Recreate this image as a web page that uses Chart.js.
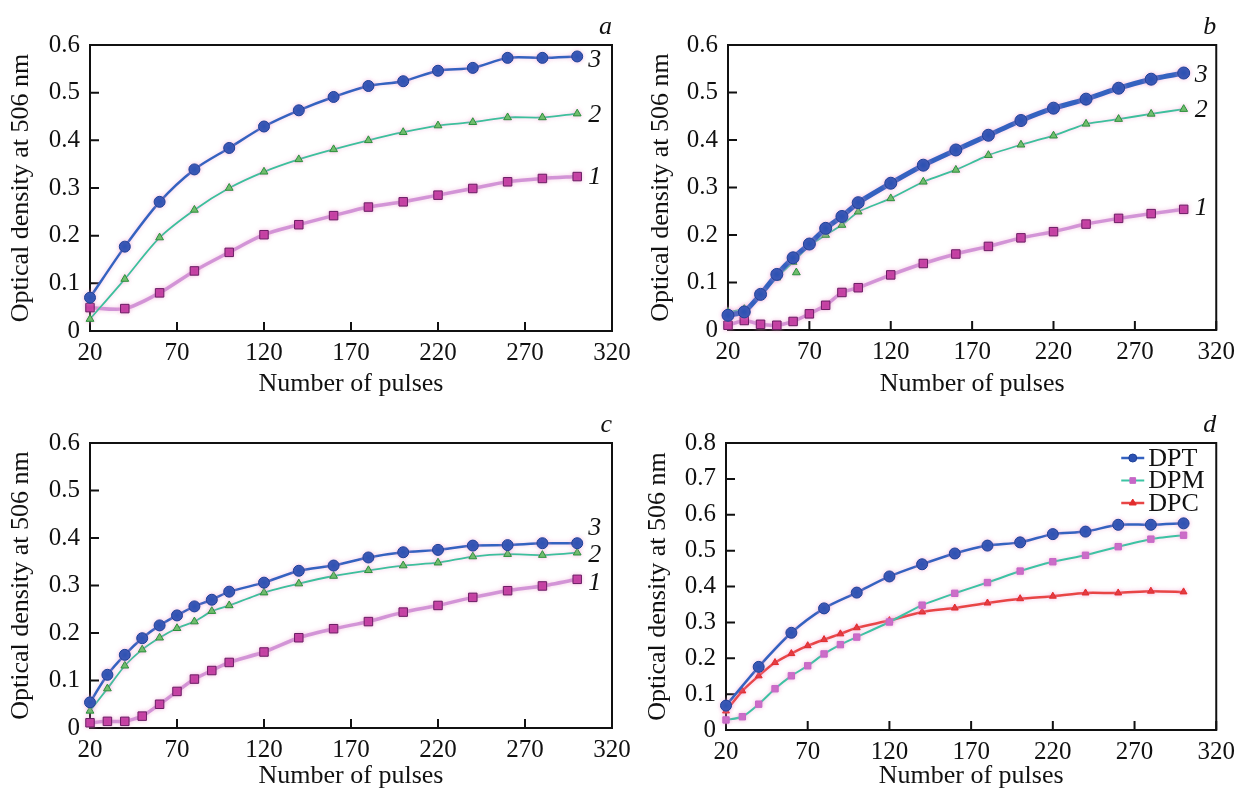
<!DOCTYPE html>
<html>
<head>
<meta charset="utf-8">
<script src="https://cdn.jsdelivr.net/npm/chart.js@4.4.1/dist/chart.umd.min.js"></script>
<style>
  html, body { margin: 0; padding: 0; background: #fff; }
  body { width: 1242px; height: 792px; position: relative; overflow: hidden; }
  canvas { position: absolute; }
</style>
</head>
<body>
<canvas id="panelA" width="660" height="400" style="left:0;top:0"></canvas>
<canvas id="panelB" width="622" height="400" style="left:620px;top:0"></canvas>
<canvas id="panelC" width="660" height="392" style="left:0;top:400px"></canvas>
<canvas id="panelD" width="622" height="392" style="left:620px;top:400px"></canvas>
<script>
// ---- data ----
const pulsesA = [20, 40, 60, 80, 100, 120, 140, 160, 180, 200, 220, 240, 260, 280, 300];
const pulsesB = [20, 30, 40, 50, 60, 70, 80, 90, 100, 120, 140, 160, 180, 200, 220, 240, 260, 280, 300];

// panel a
const a3 = [0.070, 0.177, 0.271, 0.339, 0.384, 0.429, 0.463, 0.491, 0.514, 0.524, 0.546, 0.552, 0.573, 0.573, 0.576];
const a2 = [0.025, 0.109, 0.196, 0.254, 0.300, 0.334, 0.360, 0.381, 0.400, 0.417, 0.431, 0.438, 0.448, 0.448, 0.456];
const a1 = [0.049, 0.047, 0.080, 0.126, 0.165, 0.202, 0.223, 0.242, 0.260, 0.271, 0.285, 0.299, 0.313, 0.320, 0.324];

// panel b
const b3 = [0.031, 0.038, 0.075, 0.117, 0.152, 0.181, 0.214, 0.239, 0.268, 0.309, 0.347, 0.379, 0.410, 0.441, 0.467, 0.486, 0.509, 0.528, 0.541];
const b2 = [0.038, 0.044, 0.073, 0.110, 0.143, 0.177, 0.200, 0.221, 0.249, 0.277, 0.312, 0.337, 0.368, 0.390, 0.409, 0.434, 0.444, 0.455, 0.465];
const b1 = [0.010, 0.020, 0.012, 0.010, 0.018, 0.034, 0.052, 0.079, 0.089, 0.116, 0.140, 0.160, 0.176, 0.194, 0.207, 0.223, 0.235, 0.245, 0.254];
const b2StrayX = [62];
const b2StrayY = [0.121];

// panel c
const c3 = [0.054, 0.112, 0.154, 0.189, 0.216, 0.237, 0.256, 0.270, 0.287, 0.306, 0.331, 0.342, 0.359, 0.370, 0.375, 0.384, 0.385, 0.389, 0.389];
const c2 = [0.036, 0.083, 0.131, 0.165, 0.190, 0.210, 0.224, 0.246, 0.258, 0.285, 0.304, 0.320, 0.332, 0.342, 0.348, 0.361, 0.366, 0.364, 0.369];
const c1 = [0.011, 0.014, 0.014, 0.025, 0.050, 0.077, 0.103, 0.121, 0.138, 0.160, 0.190, 0.209, 0.224, 0.244, 0.258, 0.275, 0.289, 0.299, 0.313];

// panel d
const dDPT = [0.068, 0.176, 0.271, 0.339, 0.383, 0.428, 0.462, 0.492, 0.514, 0.523, 0.546, 0.553, 0.572, 0.572, 0.576];
const dDPM = [0.028, 0.037, 0.072, 0.115, 0.151, 0.179, 0.212, 0.238, 0.259, 0.301, 0.348, 0.381, 0.411, 0.443, 0.469, 0.487, 0.511, 0.532, 0.543];
const dDPC = [0.053, 0.109, 0.151, 0.188, 0.213, 0.235, 0.252, 0.268, 0.285, 0.305, 0.329, 0.340, 0.354, 0.366, 0.373, 0.382, 0.382, 0.387, 0.385];

const curveNames = ["3", "2", "1"];
const legendNames = ["DPT", "DPM", "DPC"];
const xTitle = "Number of pulses";
const yTitle = "Optical density at 506 nm";

const SERIF = '"Liberation Serif", "Times New Roman", serif';
Chart.defaults.font.family = SERIF;
Chart.defaults.font.size = 25;
Chart.defaults.color = "#111";

function pts(xs, ys) {
  return xs.map((x, i) => ({ x: x, y: ys[i] }));
}

// styles
const blue = { borderColor: "#3462c0", backgroundColor: "#2b52b3", pointBorderColor: "#1f4197", pointStyle: "circle", pointRadius: 5.5, borderWidth: 2.5 };
const green = { borderColor: "#3dbf9c", backgroundColor: "#5cc45e", pointBorderColor: "#2c8f3c", pointStyle: "triangle", pointRadius: 4.5, borderWidth: 1.8 };
const magenta = { borderColor: "rgba(206,140,212,0.9)", backgroundColor: "#c23aa0", pointBorderColor: "#6a1d63", pointStyle: "rect", pointRadius: 6, borderWidth: 3.5 };
const dpm = { borderColor: "#3cc3a3", backgroundColor: "#c767c7", pointBorderColor: "#c767c7", pointStyle: "rect", pointRadius: 4.5, borderWidth: 2 };
const dpc = { borderColor: "#e84545", backgroundColor: "#e22c2c", pointBorderColor: "#e22c2c", pointStyle: "triangle", pointRadius: 4, borderWidth: 2.5 };

function series(label, data, style, extra) {
  return Object.assign({ label: label, data: data, showLine: true, pointBorderWidth: 1, clip: false, tension: 0.3 }, style, extra || {});
}

function drawMarker(ctx, style, x, y, r) {
  ctx.fillStyle = style.backgroundColor;
  ctx.strokeStyle = style.pointBorderColor;
  ctx.lineWidth = 1;
  ctx.beginPath();
  if (style.pointStyle === "circle") {
    ctx.arc(x, y, r, 0, Math.PI * 2);
  } else if (style.pointStyle === "rect") {
    const s = r * Math.SQRT1_2;
    ctx.rect(x - s, y - s, 2 * s, 2 * s);
  } else {
    ctx.moveTo(x, y - r);
    ctx.lineTo(x + r * 0.87, y + r * 0.5);
    ctx.lineTo(x - r * 0.87, y + r * 0.5);
    ctx.closePath();
  }
  ctx.fill();
  ctx.stroke();
}

// frame with inward ticks, curve numbers, panel letter, legend
const framePlugin = {
  id: "frame",
  beforeDatasetsDraw(chart) {
    const { ctx, chartArea: ca, scales } = chart;
    ctx.save();
    ctx.strokeStyle = "#111";
    ctx.lineWidth = 2;
    ctx.strokeRect(ca.left, ca.top, ca.right - ca.left, ca.bottom - ca.top);
    ctx.beginPath();
    scales.x.ticks.forEach(t => {
      const px = scales.x.getPixelForValue(t.value);
      ctx.moveTo(px, ca.bottom);
      ctx.lineTo(px, ca.bottom - 9);
    });
    scales.y.ticks.forEach(t => {
      const py = scales.y.getPixelForValue(t.value);
      ctx.moveTo(ca.left, py);
      ctx.lineTo(ca.left + 9, py);
    });
    ctx.stroke();
    ctx.restore();
  },
  // soft pinkish halo round the curves, as in the printed figure
  beforeDatasetDraw(chart) {
    const ctx = chart.ctx;
    ctx.save();
    ctx.shadowColor = "rgba(235,150,205,0.55)";
    ctx.shadowBlur = 4;
  },
  afterDatasetDraw(chart) {
    chart.ctx.restore();
  },
  afterDatasetsDraw(chart, args, opts) {
    const { ctx, chartArea: ca } = chart;
    ctx.save();
    ctx.fillStyle = "#111";
    ctx.font = "italic 26px " + SERIF;
    ctx.textAlign = "right";
    ctx.textBaseline = "alphabetic";
    ctx.fillText(opts.letter, ca.right, ca.top - 11);

    if (opts.curveLabels) {
      ctx.textAlign = "left";
      ctx.textBaseline = "middle";
      opts.curveLabels.forEach((lab, i) => {
        const el = chart.getDatasetMeta(i).data.at(-1);
        ctx.fillText(lab, el.x + 11, el.y + opts.labelDy[i]);
      });
    }

    if (opts.legend) {
      ctx.font = "26px " + SERIF;
      ctx.textAlign = "left";
      ctx.textBaseline = "middle";
      opts.legend.forEach((name, i) => {
        const ds = chart.data.datasets[i];
        const y = ca.top + 15 + i * 22.5;
        const x0 = ca.right - 95;
        ctx.strokeStyle = ds.borderColor;
        ctx.lineWidth = ds.borderWidth;
        ctx.beginPath();
        ctx.moveTo(x0, y);
        ctx.lineTo(x0 + 23, y);
        ctx.stroke();
        drawMarker(ctx, ds, x0 + 11.5, y, 4);
        ctx.fillStyle = "#111";
        ctx.fillText(name, ca.right - 68, y + 1);
      });
    }
    ctx.restore();
  }
};

function makeChart(id, cfg) {
  return new Chart(document.getElementById(id), {
    type: "scatter",
    data: { datasets: cfg.datasets },
    plugins: [framePlugin],
    options: {
      responsive: false,
      animation: false,
      events: [],
      layout: { padding: { top: cfg.padTop, right: cfg.padRight, left: 0, bottom: 0 } },
      scales: {
        x: {
          type: "linear",
          min: 20,
          max: 320,
          ticks: { stepSize: 50, padding: 7, color: "#111" },
          grid: { display: false, drawTicks: false },
          border: { display: false },
          title: { display: true, text: xTitle, font: { size: 26 }, padding: { top: 0, bottom: 0 } },
          afterFit: s => { s.height = cfg.xHeight; }
        },
        y: {
          type: "linear",
          min: 0,
          max: cfg.yMax,
          ticks: { stepSize: 0.1, padding: 10, color: "#111" },
          grid: { display: false, drawTicks: false },
          border: { display: false },
          title: { display: true, text: yTitle, font: { size: 26 }, padding: { top: cfg.yTitlePad, bottom: 0 } },
          afterFit: s => { s.width = cfg.yWidth; }
        }
      },
      plugins: {
        legend: { display: false },
        tooltip: { enabled: false },
        frame: { letter: cfg.letter, curveLabels: cfg.curveLabels, labelDy: cfg.labelDy, legend: cfg.legend }
      }
    }
  });
}

makeChart("panelA", {
  letter: "a", yMax: 0.6, padTop: 45, padRight: 48, yWidth: 90, xHeight: 69, yTitlePad: 6,
  curveLabels: curveNames, labelDy: [4, 2, 1],
  datasets: [
    series("3", pts(pulsesA, a3), blue),
    series("2", pts(pulsesA, a2), green),
    series("1", pts(pulsesA, a1), magenta)
  ]
});

makeChart("panelB", {
  letter: "b", yMax: 0.6, padTop: 45, padRight: 21, yWidth: 108, xHeight: 70, yTitlePad: 26,
  curveLabels: curveNames, labelDy: [2, 1, -1],
  datasets: [
    series("3", pts(pulsesB, b3), blue, { borderWidth: 5, pointRadius: 6, tension: 0.15 }),
    series("2", pts(pulsesB, b2), green, { tension: 0.1 }),
    series("1", pts(pulsesB, b1), magenta, { tension: 0.2 }),
    series("2 extra", pts(b2StrayX, b2StrayY), green, { showLine: false })
  ]
});

makeChart("panelC", {
  letter: "c", yMax: 0.6, padTop: 43, padRight: 48, yWidth: 90, xHeight: 64, yTitlePad: 6,
  curveLabels: curveNames, labelDy: [-15, 2, 4],
  datasets: [
    series("3", pts(pulsesB, c3), blue, { tension: 0.2 }),
    series("2", pts(pulsesB, c2), green, { tension: 0.2 }),
    series("1", pts(pulsesB, c1), magenta, { tension: 0.2 })
  ]
});

makeChart("panelD", {
  letter: "d", yMax: 0.8, padTop: 43, padRight: 22, yWidth: 106, xHeight: 62, yTitlePad: 23,
  legend: legendNames,
  datasets: [
    series("DPT", pts(pulsesA, dDPT), blue),
    series("DPM", pts(pulsesB, dDPM), dpm, { tension: 0.2 }),
    series("DPC", pts(pulsesB, dDPC), dpc, { tension: 0.2 })
  ]
});
</script>
</body>
</html>
